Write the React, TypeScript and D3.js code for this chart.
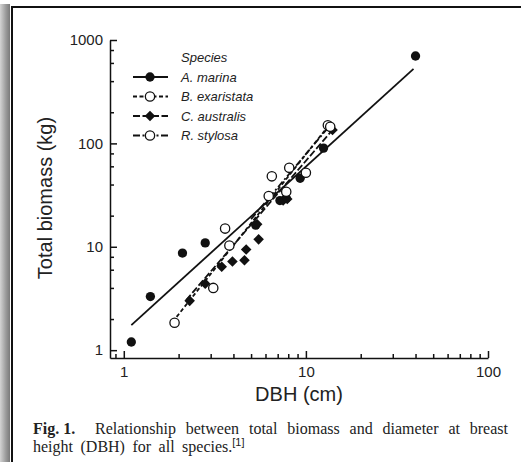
import React, { useRef, useEffect } from 'react';
import * as d3 from 'd3';

const speciesNames = ['A. marina', 'B. exaristata', 'C. australis', 'R. stylosa'];

// DBH (cm) and total biomass (kg)
const aMarinaDbh = [1.1, 1.4, 2.1, 2.8, 5.3, 7.2, 7.8, 9.3, 12.5, 40];
const aMarinaBiomass = [1.2, 3.3, 8.7, 10.9, 16.2, 28, 29.5, 46, 90, 700];

const bExaristataDbh = [1.9, 3.1, 3.6, 3.8, 6.5, 8.1, 13.2];
const bExaristataBiomass = [1.84, 4.0, 15, 10.3, 48, 58, 150];

const cAustralisDbh = [2.3, 2.8, 3.45, 3.95, 4.6, 4.7, 5.5, 5.4, 7.5, 7.9, 14];
const cAustralisBiomass = [3.0, 4.4, 6.4, 7.2, 7.4, 9.4, 11.8, 16.5, 28, 29, 135];

const rStylosaDbh = [6.25, 7.8, 10, 13.6];
const rStylosaBiomass = [31, 34, 52, 145];

// fitted line end points
const aMarinaFitDbh = [1.1, 39];
const aMarinaFitBiomass = [1.75, 525];
const bExaristataFitDbh = [1.95, 13.4];
const bExaristataFitBiomass = [2.1, 150];
const cAustralisFitDbh = [2.2, 14];
const cAustralisFitBiomass = [3.05, 135];
const rStylosaFitDbh = [5.0, 13.6];
const rStylosaFitBiomass = [18.5, 150];

const xMajorTicks = [1, 10, 100];
const xMinorTicks = [0.9, 2, 3, 4, 5, 6, 7, 8, 9, 20, 30, 40, 50, 60, 70, 80, 90];
const yMajorTicks = [1, 10, 100, 1000];
const yMinorTicks = [2, 4, 6, 8, 20, 40, 60, 80, 200, 400, 600, 800];

const captionBold = 'Fig. 1.';
const captionLine1 = 'Relationship between total biomass and diameter at breast';
const captionLine2 = 'height (DBH) for all species.';
const captionRef = '[1]';

const App = () => {
    const svgRef = useRef(null);

    useEffect(() => {
        const width = 521;
        const height = 462;
        const sans = '"Liberation Sans", Arial, sans-serif';
        const serif = '"Liberation Serif", "Times New Roman", serif';

        const svg = d3.select(svgRef.current);
        svg.selectAll('*').remove();
        svg.attr('width', width).attr('height', height);

        // page frame
        const grad = svg.append('defs').append('linearGradient')
            .attr('id', 'sidebar').attr('x1', 0).attr('x2', 1);
        grad.append('stop').attr('offset', '0%').attr('stop-color', '#d4d4d4');
        grad.append('stop').attr('offset', '60%').attr('stop-color', '#9a9a9a');
        grad.append('stop').attr('offset', '100%').attr('stop-color', '#7a7a7a');
        svg.append('rect').attr('x', 0).attr('y', 0).attr('width', width).attr('height', height).attr('fill', '#fff');
        svg.append('rect').attr('x', 0).attr('y', 4).attr('width', 10).attr('height', height).attr('fill', 'url(#sidebar)');
        svg.append('path').attr('d', `M12,${height} V7 H${width}`)
            .attr('fill', 'none').attr('stroke', '#111').attr('stroke-width', 2);

        const x = d3.scaleLog().domain([0.84, 100]).range([110, 488]);
        const y = d3.scaleLog().domain([0.84, 1000]).range([358, 40]);

        // axes
        const fmt = d3.format('d');
        svg.append('g')
            .attr('transform', 'translate(0,358)')
            .call(d3.axisBottom(x).tickValues(xMinorTicks).tickSize(-4).tickSizeOuter(0).tickFormat(() => ''))
            .call(g => g.select('.domain').remove());
        svg.append('g')
            .attr('transform', 'translate(110,0)')
            .call(d3.axisLeft(y).tickValues(yMinorTicks).tickSize(-4).tickSizeOuter(0).tickFormat(() => ''))
            .call(g => g.select('.domain').remove());
        svg.append('g')
            .attr('transform', 'translate(0,358)')
            .call(d3.axisBottom(x).tickValues(xMajorTicks).tickSize(-7).tickSizeOuter(0).tickPadding(8).tickFormat(fmt));
        svg.append('g')
            .attr('transform', 'translate(110,0)')
            .call(d3.axisLeft(y).tickValues(yMajorTicks).tickSize(-7).tickSizeOuter(0).tickPadding(7).tickFormat(fmt));
        svg.selectAll('.tick line, .domain').attr('stroke', '#111').attr('stroke-width', 1.5);
        svg.selectAll('.tick text').attr('font-family', sans).attr('font-size', 15).attr('fill', '#222');

        svg.append('text')
            .attr('x', 299).attr('y', 401)
            .attr('text-anchor', 'middle')
            .attr('font-family', sans).attr('font-size', 20).attr('fill', '#222')
            .text('DBH (cm)');
        svg.append('text')
            .attr('transform', 'translate(52,198) rotate(-90)')
            .attr('text-anchor', 'middle')
            .attr('font-family', sans).attr('font-size', 20).attr('fill', '#222')
            .text('Total biomass (kg)');

        const series = [
            { name: speciesNames[0], dbh: aMarinaDbh, bio: aMarinaBiomass, fx: aMarinaFitDbh, fy: aMarinaFitBiomass, dash: null, diamond: false, filled: true },
            { name: speciesNames[1], dbh: bExaristataDbh, bio: bExaristataBiomass, fx: bExaristataFitDbh, fy: bExaristataFitBiomass, dash: '4,2.5', diamond: false, filled: false },
            { name: speciesNames[2], dbh: cAustralisDbh, bio: cAustralisBiomass, fx: cAustralisFitDbh, fy: cAustralisFitBiomass, dash: '7,2.5', diamond: true, filled: true },
            { name: speciesNames[3], dbh: rStylosaDbh, bio: rStylosaBiomass, fx: rStylosaFitDbh, fy: rStylosaFitBiomass, dash: '7,2.5,2,2.5', diamond: false, filled: false },
        ];

        const line = d3.line().x(d => x(d[0])).y(d => y(d[1]));
        const sym = s => s.diamond
            ? d3.symbol().type(d3.symbolSquare).size(56)()
            : d3.symbol().type(d3.symbolCircle).size(68)();
        const rot = s => (s.diamond ? ' rotate(45)' : '');

        series.forEach(s => {
            svg.append('path')
                .attr('d', line(s.fx.map((v, i) => [v, s.fy[i]])))
                .attr('fill', 'none').attr('stroke', '#111').attr('stroke-width', 1.8)
                .attr('stroke-dasharray', s.dash);
        });

        series.forEach(s => {
            svg.append('g').selectAll('path')
                .data(s.dbh.map((v, i) => [v, s.bio[i]]))
                .join('path')
                .attr('transform', d => `translate(${x(d[0])},${y(d[1])})${rot(s)}`)
                .attr('d', sym(s))
                .attr('fill', s.filled ? '#111' : '#fff')
                .attr('stroke', '#111').attr('stroke-width', s.filled ? 0 : 1.3);
        });

        // legend
        const legend = svg.append('g').attr('font-family', sans).attr('font-size', 13).attr('font-style', 'italic').attr('fill', '#222');
        legend.append('text').attr('x', 181).attr('y', 62).text('Species');
        series.forEach((s, i) => {
            const ly = 77 + i * 19.5;
            legend.append('line')
                .attr('x1', 133).attr('x2', 168).attr('y1', ly).attr('y2', ly)
                .attr('stroke', '#111').attr('stroke-width', 1.8)
                .attr('stroke-dasharray', s.dash);
            legend.append('path')
                .attr('transform', `translate(150,${ly})${rot(s)}`)
                .attr('d', sym(s))
                .attr('fill', s.filled ? '#111' : '#fff')
                .attr('stroke', '#111').attr('stroke-width', s.filled ? 0 : 1.3);
            legend.append('text').attr('x', 181).attr('y', ly + 4.5).text(s.name);
        });

        // caption
        const cap = svg.append('g').attr('font-family', serif).attr('font-size', 16).attr('fill', '#222');
        cap.append('text').attr('x', 33).attr('y', 434).attr('font-weight', 'bold').text(captionBold);
        const l1 = cap.append('text').attr('x', 95).attr('y', 434).text(captionLine1);
        const natural = l1.node().getComputedTextLength();
        const gaps = captionLine1.split(' ').length - 1;
        l1.attr('word-spacing', Math.max(0, (508 - 95 - natural) / gaps));
        const l2 = cap.append('text').attr('x', 33).attr('y', 452).attr('word-spacing', 3.5).text(captionLine2);
        l2.append('tspan')
            .attr('font-family', sans).attr('font-size', 11).attr('dy', -6)
            .text(captionRef);
    }, []);

    return <svg ref={svgRef} style={{ position: 'absolute', left: 0, top: 0 }}></svg>;
};

export default App;
